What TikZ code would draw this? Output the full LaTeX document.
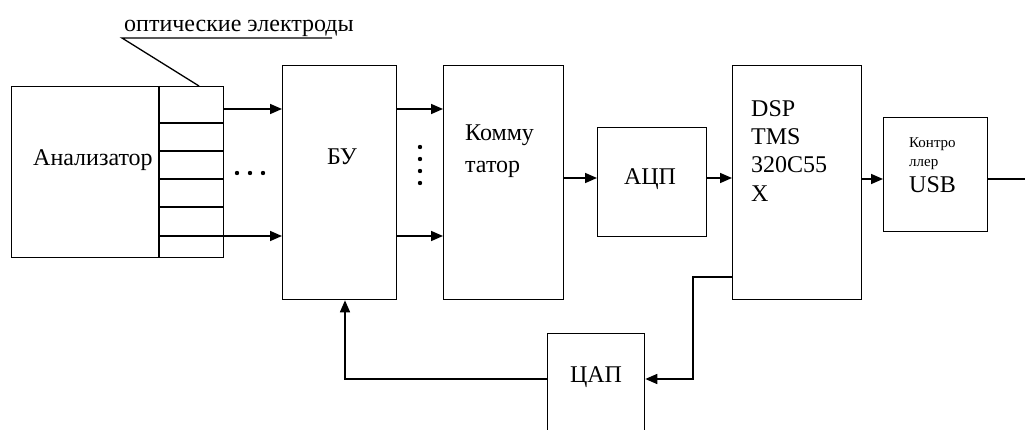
\documentclass[tikz,border=0pt]{standalone}
\usepackage{fontspec}
\setmainfont{Liberation Serif}
\usetikzlibrary{arrows.meta}
\tikzset{
  box/.style={draw, line width=1.3pt, inner sep=0pt, anchor=north west, rectangle},
  txt/.style={inner sep=0pt, font=\fontsize{24}{28.5}\selectfont},
  small/.style={inner sep=0pt, font=\fontsize{15}{19}\selectfont},
  arr/.style={line width=1.6pt, -{Triangle[length=12pt,width=10pt]}},
  wire/.style={line width=1.6pt},
  thin/.style={line width=1.3pt},
  dot/.style={fill=black}
}
\begin{document}
\begin{tikzpicture}[x=1pt,y=-1pt]
\useasboundingbox (0,0) rectangle (1025,430);
\clip (0,0) rectangle (1025,430);
% boxes
\node[box, minimum width=212pt, minimum height=171pt] (an) at (11,86) {};
\node[box, minimum width=114pt, minimum height=234pt] (bu) at (282,65) {};
\node[box, minimum width=120pt, minimum height=234pt] (kom) at (443,65) {};
\node[box, minimum width=109pt, minimum height=109pt] (adc) at (597,127) {};
\node[box, minimum width=129pt, minimum height=234pt] (dsp) at (732,65) {};
\node[box, minimum width=104pt, minimum height=114pt] (usb) at (883,117) {};
\node[box, minimum width=97pt, minimum height=120pt] (dac) at (547,333) {};
% electrode cells
\coordinate (cellL) at (159,86);
\draw[thin] (cellL) -- (cellL |- an.south);
\foreach \yy in {123,151,179,207,236}{
  \draw[thin] (159,\yy) -- (223,\yy);
}
% texts
\node[txt, anchor=base west] (tel) at (124,32) {оптические электроды};
\coordinate (ulL) at (122,38);
\coordinate (ulR) at (332,38);
\coordinate (ulT) at (199,86);
\draw[thin] (ulR) -- (ulL) -- (ulT);
\node[txt, anchor=base west] (tan) at (33,166) {Анализатор};
\node[txt, anchor=base] (tbu) at (342,165) {БУ};
\node[txt, anchor=base west] (tk1) at (465,141) {Комму};
\node[txt, anchor=base west] (tk2) at (465,173) {татор};
\node[txt, anchor=base] (tadc) at (650,185) {АЦП};
\node[txt, anchor=base west] (td1) at (751,117) {DSP};
\node[txt, anchor=base west] (td2) at (751,145) {TMS};
\node[txt, anchor=base west] (td3) at (751,173) {320C55};
\node[txt, anchor=base west] (td4) at (751,202) {X};
\node[small, anchor=base west] (tu1) at (909,148) {Контро};
\node[small, anchor=base west] (tu2) at (909,167) {ллер};
\node[txt, anchor=base west] (tu3) at (909,193) {USB};
\node[txt, anchor=base] (tdac) at (596,382) {ЦАП};
% connectors
\coordinate (e1) at (223,109);
\coordinate (e2) at (223,236);
\draw[arr] (e1) -- (e1 -| bu.west);
\draw[arr] (e2) -- (e2 -| bu.west);
\coordinate (b1) at (396,109);
\coordinate (b2) at (396,236);
\draw[arr] (b1) -- (b1 -| kom.west);
\draw[arr] (b2) -- (b2 -| kom.west);
\coordinate (k1) at (563,178);
\draw[arr] (k1) -- (k1 -| adc.west);
\coordinate (a1) at (706,178);
\draw[arr] (a1) -- (a1 -| dsp.west);
\coordinate (d1) at (861,179);
\draw[arr] (d1) -- (d1 -| usb.west);
\coordinate (out) at (1025,179);
\draw[wire] (usb.east |- out) -- (out);
% feedback
\coordinate (f0) at (732,277);
\coordinate (f1) at (693,277);
\coordinate (f2) at (693,379);
\draw[arr] (f0) -- (f1) -- (f2) -- (f2 -| dac.east);
\coordinate (g0) at (547,379);
\coordinate (g1) at (345,379);
\draw[arr] (g0) -- (g1) -- (g1 |- bu.south);
% dots
\foreach \xx in {237,250,263}{ \fill[dot] (\xx,173) circle (2.2pt); }
\foreach \yy in {147,159,171,183}{ \fill[dot] (420,\yy) circle (2.2pt); }
\end{tikzpicture}
\end{document}
